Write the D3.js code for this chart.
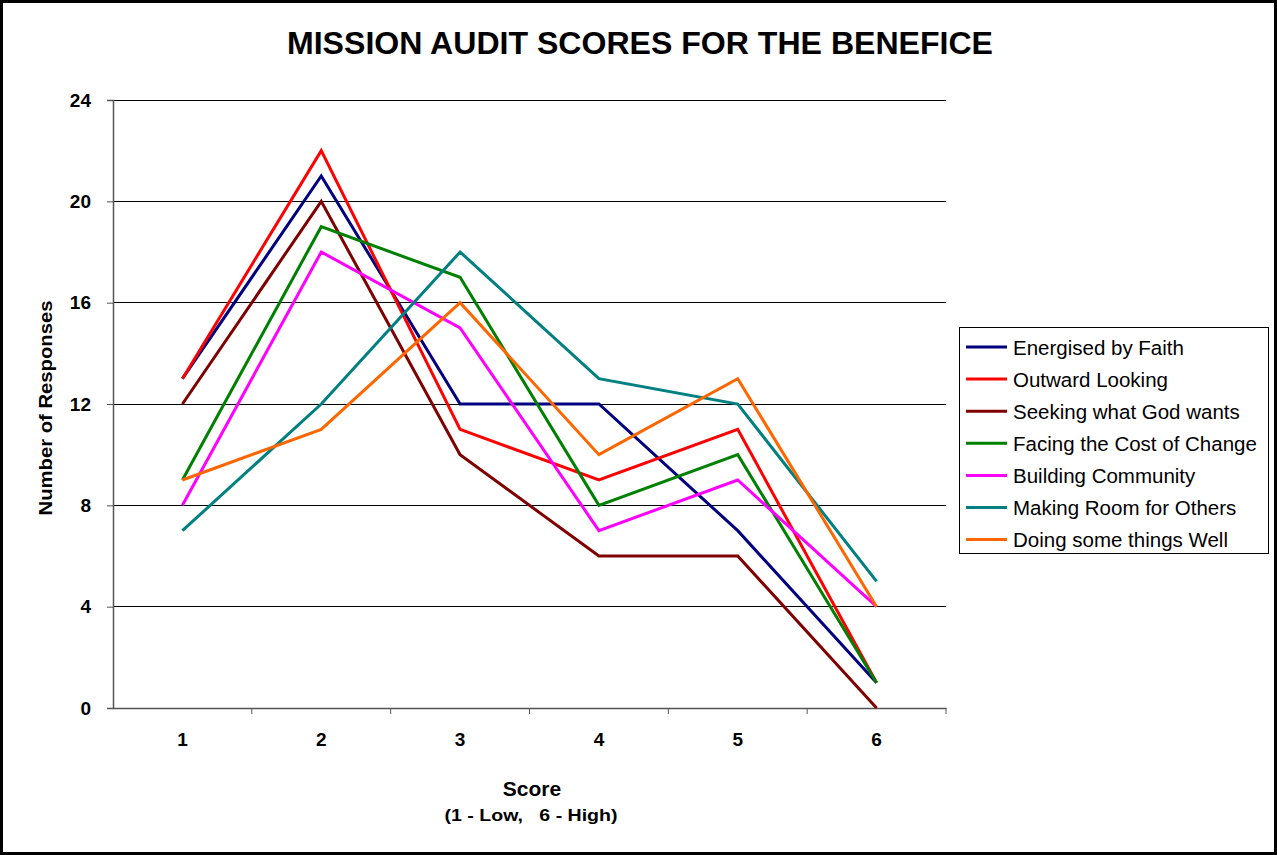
<!DOCTYPE html>
<html>
<head>
<meta charset="utf-8">
<script src="https://cdn.jsdelivr.net/npm/d3@7"></script>
<style>
  body { margin: 0; background: #fff; }
  text { font-family: Arial, "Liberation Sans", sans-serif; }
</style>
</head>
<body>
<div id="svg"></div>
<script>
// ------------------------------------------------------
// Data
const scores = [1, 2, 3, 4, 5, 6]
const seriesNames = [
	'Energised by Faith',
	'Outward Looking',
	'Seeking what God wants',
	'Facing the Cost of Change',
	'Building Community',
	'Making Room for Others',
	'Doing some things Well'
]
const energised = [13, 21, 12, 12, 7, 1]
const outward = [13, 22, 11, 9, 11, 1]
const seeking = [12, 20, 10, 6, 6, 0]
const facing = [9, 19, 17, 8, 10, 1]
const building = [8, 18, 15, 7, 9, 4]
const makingRoom = [7, 12, 18, 13, 12, 5]
const doingWell = [9, 11, 16, 10, 13, 4]
const yTicks = [0, 4, 8, 12, 16, 20, 24]

const colors = ['#000080', '#ff0000', '#800000', '#008000', '#ff00ff', '#008080', '#ff6600']
const allSeries = [energised, outward, seeking, facing, building, makingRoom, doingWell]

// ------------------------------------------------------
// Size
const width = 1277
const height = 855
const plot = { left: 113, right: 946, top: 100, bottom: 708 }

const svg = d3.select('#svg')
	.append('svg')
	.attr('width', width)
	.attr('height', height)

// outer border
svg.append('rect')
	.attr('x', 1.5).attr('y', 1.5)
	.attr('width', width - 3).attr('height', height - 3)
	.attr('fill', '#fff')
	.attr('stroke', '#000')
	.attr('stroke-width', 3)

// scales
const x = d3.scaleBand()
	.domain(scores)
	.range([plot.left, plot.right])

const y = d3.scaleLinear()
	.domain([0, 24])
	.range([plot.bottom, plot.top])

// gridlines
svg.append('g')
	.selectAll('line')
	.data(yTicks.filter(d => d > 0))
	.enter()
	.append('line')
	.attr('x1', plot.left)
	.attr('x2', plot.right)
	.attr('y1', d => y(d))
	.attr('y2', d => y(d))
	.attr('stroke', '#000')
	.attr('stroke-width', 1)
	.attr('shape-rendering', 'crispEdges')

// y axis
const yAxis = svg.append('g')
	.attr('transform', `translate(${plot.left},0)`)
	.call(d3.axisLeft(y).tickValues(yTicks).tickSize(6).tickPadding(16))
yAxis.select('.domain').attr('stroke', '#555').attr('stroke-width', 1.5)
yAxis.selectAll('.tick line').attr('stroke', '#555')
yAxis.selectAll('text')
	.attr('font-size', 19)
	.attr('font-weight', 'bold')
	.attr('fill', '#000')

// x axis
const xAxis = svg.append('g')
	.attr('transform', `translate(0,${plot.bottom})`)
	.call(d3.axisBottom(x).tickSize(0).tickPadding(25))
xAxis.select('.domain').attr('stroke', '#555').attr('stroke-width', 1.5)
xAxis.selectAll('text')
	.attr('font-size', 19)
	.attr('font-weight', 'bold')
	.attr('fill', '#000')

// x ticks at category boundaries
svg.append('g')
	.selectAll('line')
	.data(scores)
	.enter()
	.append('line')
	.attr('x1', d => x(d) + x.bandwidth())
	.attr('x2', d => x(d) + x.bandwidth())
	.attr('y1', plot.bottom)
	.attr('y2', plot.bottom + 6)
	.attr('stroke', '#555')
	.attr('stroke-width', 1)

// lines
const line = d3.line()
	.x((d, i) => x(scores[i]) + x.bandwidth() / 2)
	.y(d => y(d))

svg.append('g')
	.selectAll('path')
	.data(allSeries)
	.enter()
	.append('path')
	.attr('d', line)
	.attr('fill', 'none')
	.attr('stroke', (d, i) => colors[i])
	.attr('stroke-width', 3)
	.attr('stroke-linejoin', 'miter')

// title
svg.append('text')
	.attr('x', 640)
	.attr('y', 54)
	.attr('text-anchor', 'middle')
	.attr('font-size', 31)
	.attr('font-weight', 'bold')
	.attr('textLength', 706)
	.attr('lengthAdjust', 'spacingAndGlyphs')
	.text('MISSION AUDIT SCORES FOR THE BENEFICE')

// axis titles
svg.append('text')
	.attr('transform', `translate(52,${(plot.top + plot.bottom) / 2 + 4}) rotate(-90)`)
	.attr('text-anchor', 'middle')
	.attr('font-size', 19)
	.attr('font-weight', 'bold')
	.attr('textLength', 215)
	.attr('lengthAdjust', 'spacingAndGlyphs')
	.text('Number of Responses')

svg.append('text')
	.attr('x', 532)
	.attr('y', 796)
	.attr('text-anchor', 'middle')
	.attr('font-size', 21)
	.attr('font-weight', 'bold')
	.text('Score')

svg.append('text')
	.attr('x', 531)
	.attr('y', 821)
	.attr('text-anchor', 'middle')
	.attr('font-size', 17)
	.attr('font-weight', 'bold')
	.attr('xml:space', 'preserve')
	.attr('textLength', 173)
	.attr('lengthAdjust', 'spacingAndGlyphs')
	.style('white-space', 'pre')
	.text('(1 - Low,   6 - High)')

// legend
const legend = svg.append('g')
	.attr('transform', 'translate(959,327)')

legend.append('rect')
	.attr('x', 0.5).attr('y', 0.5)
	.attr('width', 309).attr('height', 226)
	.attr('fill', '#fff')
	.attr('stroke', '#000')
	.attr('stroke-width', 1)

const item = legend.selectAll('.item')
	.data(seriesNames)
	.enter()
	.append('g')
	.attr('class', 'item')
	.attr('transform', (d, i) => `translate(0,${20 + i * 32.1})`)

item.append('line')
	.attr('x1', 7).attr('x2', 48)
	.attr('stroke', (d, i) => colors[i])
	.attr('stroke-width', 3)

item.append('text')
	.attr('x', 54)
	.attr('y', 7.5)
	.attr('font-size', 20.5)
	.text(d => d)
</script>
</body>
</html>
